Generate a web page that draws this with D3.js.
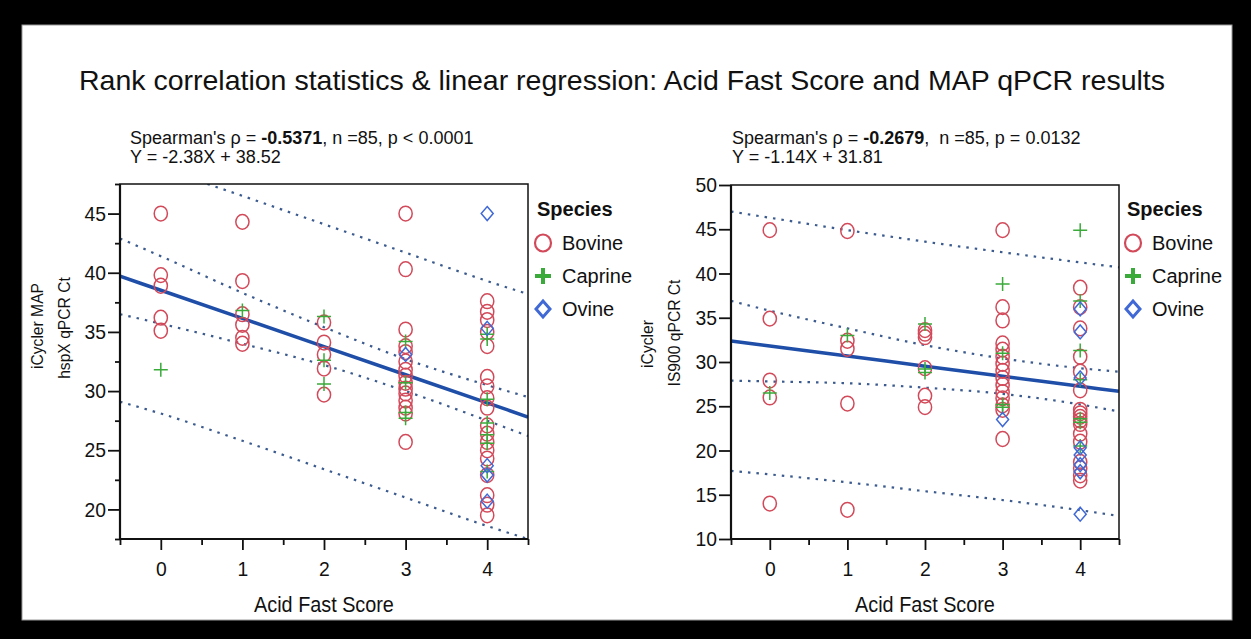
<!DOCTYPE html>
<html>
<head>
<meta charset="utf-8">
<script src="https://cdn.jsdelivr.net/npm/d3@7"></script>
<style>
  html, body { margin: 0; padding: 0; background: #000; }
  svg { display: block; }
  text { font-family: "Liberation Sans", Arial, sans-serif; fill: #111; white-space: pre; }
</style>
</head>
<body>
<svg id="chart"></svg>
<script>
//data
////////////////////////////////////////////////////////////////
const scoreTicks = [0, 1, 2, 3, 4];
const scoreMinor = [-0.5, 0.5, 1.5, 2.5, 3.5, 4.5];
const speciesNames = ['Bovine', 'Caprine', 'Ovine'];

const hspxYTicks = [20, 25, 30, 35, 40, 45];
const hspxYMinor = [17.5, 22.5, 27.5, 32.5, 37.5, 42.5, 47.5];
const is900YTicks = [10, 15, 20, 25, 30, 35, 40, 45, 50];

// [acid fast score, Ct]
const hspxBovine = [
  [0, 45.0], [0, 39.8], [0, 38.9], [0, 36.2], [0, 35.1],
  [1, 44.3], [1, 39.3], [1, 36.5], [1, 35.6], [1, 34.5], [1, 34.0],
  [2, 35.8], [2, 34.1], [2, 33.1], [2, 31.9], [2, 29.7],
  [3, 45.0], [3, 40.3], [3, 35.2], [3, 33.8], [3, 33.3], [3, 32.5], [3, 31.8], [3, 31.3],
  [3, 30.7], [3, 30.2], [3, 29.8], [3, 29.2], [3, 28.6], [3, 28.1], [3, 25.7],
  [4, 37.6], [4, 36.7], [4, 36.0], [4, 35.0], [4, 33.8], [4, 31.2], [4, 30.4], [4, 29.4],
  [4, 28.6], [4, 27.1], [4, 26.4], [4, 25.7], [4, 25.0], [4, 24.3], [4, 22.9], [4, 21.2],
  [4, 20.4], [4, 19.5]
];
const hspxCaprine = [
  [0, 31.8], [1, 36.8], [2, 36.3], [2, 32.6], [2, 30.6],
  [3, 34.2], [3, 30.7], [3, 28.2], [3, 27.7],
  [4, 34.8], [4, 34.4], [4, 29.3], [4, 27.3], [4, 26.3], [4, 25.6], [4, 23.2]
];
const hspxOvine = [
  [3, 33.1], [4, 45.0], [4, 35.3], [4, 23.7], [4, 22.9], [4, 20.7]
];

const is900Bovine = [
  [0, 44.9], [0, 34.9], [0, 27.9], [0, 26.0], [0, 14.0],
  [1, 44.8], [1, 32.4], [1, 31.5], [1, 25.3], [1, 13.3],
  [2, 33.6], [2, 33.2], [2, 32.8], [2, 29.3], [2, 26.2], [2, 24.9],
  [3, 44.9], [3, 36.2], [3, 34.7], [3, 32.1], [3, 31.4], [3, 30.6], [3, 29.8], [3, 29.0],
  [3, 28.2], [3, 27.4], [3, 26.6], [3, 25.9], [3, 25.1], [3, 24.6], [3, 21.3],
  [4, 38.4], [4, 36.2], [4, 33.8], [4, 30.6], [4, 28.9], [4, 26.8], [4, 24.6], [4, 24.2],
  [4, 23.8], [4, 23.4], [4, 23.0], [4, 21.9], [4, 21.0], [4, 18.7], [4, 18.0], [4, 17.2],
  [4, 16.6]
];
const is900Caprine = [
  [0, 26.5], [1, 33.0], [2, 34.3], [2, 29.2], [2, 28.8],
  [3, 38.8], [3, 31.0], [3, 25.2], [3, 24.9],
  [4, 44.9], [4, 36.9], [4, 31.3], [4, 28.0], [4, 23.6], [4, 23.2], [4, 20.5]
];
const is900Ovine = [
  [3, 23.5], [4, 36.0], [4, 33.4], [4, 28.2], [4, 20.3], [4, 19.5], [4, 18.4], [4, 17.6], [4, 12.8]
];

// fit line and 95% bands, read at these scores
const bandX = [-0.5, 0, 1, 2, 3, 4, 4.5];
const hspxFit = [39.71, 38.52, 36.14, 33.76, 31.38, 29.00, 27.81];
const hspxMeanUpper = [42.9, 41.4, 38.3, 35.4, 32.7, 30.5, 29.5];
const hspxMeanLower = [36.5, 35.7, 34.0, 32.2, 30.0, 27.5, 26.2];
const hspxPredUpper = [50.3, 48.9, 46.5, 44.1, 41.7, 39.3, 38.2];
const hspxPredLower = [29.1, 28.1, 25.8, 23.4, 21.0, 18.6, 17.5];

const is900Fit = [32.38, 31.81, 30.67, 29.53, 28.39, 27.25, 26.68];
const is900MeanUpper = [36.9, 35.8, 33.8, 31.9, 30.4, 29.3, 28.9];
const is900MeanLower = [27.9, 27.8, 27.6, 27.1, 26.4, 25.2, 24.4];
const is900PredUpper = [47.0, 46.3, 44.9, 43.6, 42.4, 41.25, 40.7];
const is900PredLower = [17.7, 17.3, 16.4, 15.4, 14.4, 13.25, 12.6];

const hspxStats = ["Spearman's \u03c1 = ", '-0.5371', ', n =85, p < 0.0001'];
const hspxEquation = 'Y = -2.38X + 38.52';
const is900Stats = ["Spearman's \u03c1 = ", '-0.2679', ',  n =85, p = 0.0132'];
const is900Equation = 'Y = -1.14X + 31.81';

const chartTitle = 'Rank correlation statistics & linear regression: Acid Fast Score and MAP qPCR results';

//make chart
////////////////////////////////////////////////////////////////
const width = 1251
const height = 639
const colors = { Bovine: '#d24a5a', Caprine: '#3aaa3a', Ovine: '#4169d6' }

let svg = d3.select('#chart').attr('width', width).attr('height', height)

svg.append('rect').attr('width', width).attr('height', height).attr('fill', '#000')
svg.append('rect')
  .attr('x', 22).attr('y', 25).attr('width', 1210).attr('height', 595)
  .attr('fill', '#fff').attr('stroke', '#999').attr('stroke-width', 1)

svg.append('text')
  .attr('x', 622).attr('y', 90)
  .attr('text-anchor', 'middle')
  .style('font-size', '28.5px')
  .text(chartTitle)

// squeeze a text to a given share of its natural length (the figure uses a narrow face)
let condense = (sel, k) => {
  sel.each(function() {
    let len = this.getComputedTextLength()
    d3.select(this).attr('textLength', len * k).attr('lengthAdjust', 'spacingAndGlyphs')
  })
}

const panels = [
  {
    key: 'hspx', left: 120, right: 528, top: 184, bottom: 539,
    yDomain: [17.5, 47.5], yTicks: hspxYTicks, yMinor: hspxYMinor,
    points: [hspxBovine, hspxCaprine, hspxOvine],
    fit: hspxFit, bands: [hspxMeanUpper, hspxMeanLower, hspxPredUpper, hspxPredLower],
    stats: hspxStats, equation: hspxEquation, statsX: 130,
    yTitle: [['iCycler MAP', 43, 326], ['hspX qPCR Ct', 70, 328]],
    legendX: 537
  },
  {
    key: 'is900', left: 731, right: 1119, top: 185, bottom: 539,
    yDomain: [10, 50], yTicks: is900YTicks, yMinor: [],
    points: [is900Bovine, is900Caprine, is900Ovine],
    fit: is900Fit, bands: [is900MeanUpper, is900MeanLower, is900PredUpper, is900PredLower],
    stats: is900Stats, equation: is900Equation, statsX: 732,
    yTitle: [['iCycler', 653, 344], ['IS900 qPCR Ct', 680, 333]],
    legendX: 1127
  }
]

let drawMarker = (sel, species, big) => {
  if (species === 'Bovine') {
    sel.append('ellipse')
      .attr('rx', big ? 8 : 6.6).attr('ry', big ? 8.5 : 7.4)
      .attr('fill', 'none').attr('stroke', colors.Bovine)
      .attr('stroke-width', big ? 2.2 : 1.5)
  } else if (species === 'Caprine') {
    let s = big ? 8 : 7
    sel.append('path')
      .attr('d', `M${-s},0H${s}M0,${-s}V${s}`)
      .attr('fill', 'none').attr('stroke', colors.Caprine)
      .attr('stroke-width', big ? 4 : 1.5)
  } else {
    let s = big ? 8 : 7
    sel.append('path')
      .attr('d', `M0,${-s}L${s - 1},0L0,${s}L${-(s - 1)},0Z`)
      .attr('fill', 'none').attr('stroke', colors.Ovine)
      .attr('stroke-width', big ? 3 : 1.5)
  }
}

panels.forEach(p => {
  let xScale = d3.scaleLinear().domain([-0.5, 4.5]).range([p.left, p.right])
  let yScale = d3.scaleLinear().domain(p.yDomain).range([p.bottom, p.top])
  let g = svg.append('g').attr('id', p.key)

  // stats text
  let st = g.append('text').attr('x', p.statsX).attr('y', 144).style('font-size', '18px')
  st.append('tspan').text(p.stats[0])
  st.append('tspan').style('font-weight', 'bold').text(p.stats[1])
  st.append('tspan').text(p.stats[2])
  g.append('text').attr('x', p.statsX).attr('y', 163).style('font-size', '18px').text(p.equation)

  g.append('clipPath').attr('id', 'clip-' + p.key)
    .append('rect')
    .attr('x', p.left).attr('y', p.top)
    .attr('width', p.right - p.left).attr('height', p.bottom - p.top)

  let line = d3.line()
    .x((d, i) => xScale(bandX[i]))
    .y(d => yScale(d))
    .curve(d3.curveMonotoneX)

  let plot = g.append('g').attr('clip-path', `url(#clip-${p.key})`)

  plot.selectAll('path.band')
    .data(p.bands)
    .enter()
    .append('path')
    .attr('class', 'band')
    .attr('d', line)
    .attr('fill', 'none')
    .attr('stroke', '#3b5b8f')
    .attr('stroke-width', 2.2)
    .attr('stroke-dasharray', '2.5 6')

  plot.append('path')
    .attr('d', line(p.fit))
    .attr('fill', 'none')
    .attr('stroke', '#1f4ea8')
    .attr('stroke-width', 3.5)

  // points
  speciesNames.forEach((sp, si) => {
    plot.selectAll('g.pt-' + sp)
      .data(p.points[si])
      .enter()
      .append('g')
      .attr('class', 'pt-' + sp)
      .attr('transform', d => `translate(${xScale(d[0])},${yScale(d[1])})`)
      .each(function() { drawMarker(d3.select(this), sp, false) })
  })

  // frame
  g.append('rect')
    .attr('x', p.left).attr('y', p.top)
    .attr('width', p.right - p.left).attr('height', p.bottom - p.top)
    .attr('fill', 'none').attr('stroke', '#111').attr('stroke-width', 1.5)
  g.append('path')
    .attr('d', `M${p.left},${p.top}V${p.bottom}H${p.right}`)
    .attr('fill', 'none').attr('stroke', '#111').attr('stroke-width', 2.2)

  // axes
  let xAxis = d3.axisBottom(xScale).tickValues(scoreTicks).tickSize(11).tickPadding(11).tickFormat(d3.format('d'))
  let xMinor = d3.axisBottom(xScale).tickValues(scoreMinor).tickSize(6).tickFormat('')
  let yAxis = d3.axisLeft(yScale).tickValues(p.yTicks).tickSize(12).tickPadding(2).tickFormat(d3.format('d'))
  let yMinor = d3.axisLeft(yScale).tickValues(p.yMinor).tickSize(5).tickFormat('')

  ;[[xAxis, 'x'], [xMinor, 'x'], [yAxis, 'y'], [yMinor, 'y']].forEach(([ax, dir]) => {
    let a = g.append('g')
      .attr('transform', dir === 'x' ? `translate(0, ${p.bottom})` : `translate(${p.left}, 0)`)
      .call(ax)
    a.select('.domain').remove()
    a.selectAll('line').attr('stroke', '#111').attr('stroke-width', 1.8)
    a.selectAll('text')
      .style('font-family', '"Liberation Sans", Arial, sans-serif')
      .style('font-size', '21px')
      .attr('fill', '#111')
      .call(condense, 0.92)
  })

  g.append('text')
    .attr('x', (p.left + p.right) / 2).attr('y', 612)
    .attr('text-anchor', 'middle')
    .style('font-size', '22px')
    .text('Acid Fast Score')
    .call(condense, 0.9)

  p.yTitle.forEach(t => {
    g.append('text')
      .attr('transform', `translate(${t[1]}, ${t[2]}) rotate(-90)`)
      .attr('text-anchor', 'middle')
      .style('font-size', '17px')
      .text(t[0])
      .call(condense, 0.92)
  })

  // legend
  let lg = g.append('g').attr('transform', `translate(${p.legendX}, 0)`)
  lg.append('text').attr('x', 0).attr('y', 216)
    .style('font-size', '20px').style('font-weight', 'bold')
    .text('Species')
  speciesNames.forEach((sp, i) => {
    let cy = 243 + i * 33
    let m = lg.append('g').attr('transform', `translate(${6}, ${cy})`)
    drawMarker(m, sp, true)
    lg.append('text').attr('x', 25).attr('y', cy + 7)
      .style('font-size', '20px')
      .text(sp)
  })
})
</script>
</body>
</html>
